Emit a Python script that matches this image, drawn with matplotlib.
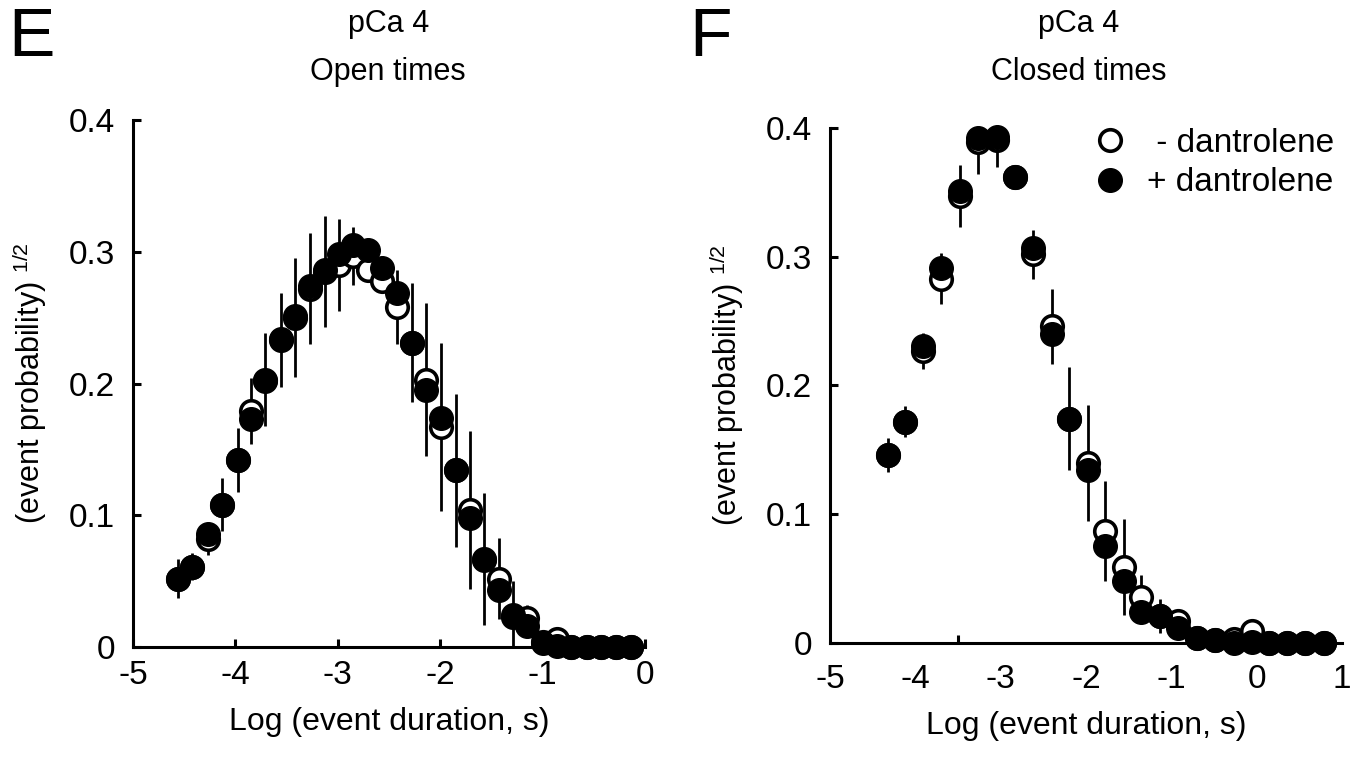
import matplotlib
matplotlib.use('Agg')
import matplotlib.pyplot as plt

plt.rcParams['font.family'] = ['Liberation Sans', 'DejaVu Sans']
plt.rcParams['mathtext.fontset'] = 'custom'
plt.rcParams['mathtext.rm'] = 'Liberation Sans'
plt.rcParams['axes.unicode_minus'] = False

# Panel E: open times (log10 of event duration, s)
open_x = [-4.56, -4.42, -4.27, -4.13, -3.98, -3.85, -3.71, -3.56, -3.42, -3.27,
          -3.13, -2.99, -2.85, -2.71, -2.57, -2.42, -2.28, -2.14, -1.99, -1.85,
          -1.71, -1.57, -1.43, -1.29, -1.15, -1.00, -0.86, -0.72, -0.57, -0.43,
          -0.28, -0.14]
open_minus = [0.052, 0.061, 0.082, 0.108, 0.142, 0.179, 0.203, 0.233, 0.250, 0.272,
              0.285, 0.290, 0.297, 0.286, 0.278, 0.258, 0.231, 0.203, 0.167, 0.134,
              0.104, 0.067, 0.052, 0.023, 0.022, 0.004, 0.006, 0.0, 0.0, 0.0,
              0.0, 0.0]
open_minus_err = [0.015, 0.010, 0.012, 0.020, 0.024, 0.025, 0.035, 0.036, 0.045, 0.042,
                  0.042, 0.035, 0.022, 0.005, 0.005, 0.028, 0.045, 0.058, 0.064, 0.058,
                  0.060, 0.050, 0.031, 0.027, 0.010, 0.005, 0.0, 0.0, 0.0, 0.0,
                  0.0, 0.0]
open_plus = [0.052, 0.061, 0.086, 0.108, 0.142, 0.173, 0.202, 0.234, 0.251, 0.274,
             0.286, 0.298, 0.305, 0.301, 0.288, 0.269, 0.231, 0.195, 0.174, 0.134,
             0.098, 0.066, 0.043, 0.024, 0.016, 0.003, 0.001, 0.0, 0.0, 0.0,
             0.0, 0.0]

# Panel F: closed times
closed_x = [-4.32, -4.12, -3.91, -3.70, -3.48, -3.27, -3.04, -2.83, -2.62, -2.40,
            -2.20, -1.98, -1.78, -1.56, -1.35, -1.13, -0.92, -0.70, -0.49, -0.27,
            -0.05, 0.14, 0.36, 0.57, 0.79]
closed_minus = [0.146, 0.172, 0.227, 0.283, 0.347, 0.389, 0.391, 0.362, 0.302, 0.246,
                0.174, 0.140, 0.087, 0.059, 0.036, 0.021, 0.017, 0.004, 0.002, 0.003,
                0.009, 0.0, 0.0, 0.0, 0.0]
closed_minus_err = [0.013, 0.012, 0.014, 0.020, 0.024, 0.025, 0.021, 0.0, 0.019, 0.029,
                    0.040, 0.045, 0.039, 0.037, 0.017, 0.013, 0.005, 0.0, 0.0, 0.0,
                    0.0, 0.0, 0.0, 0.0, 0.0]
closed_plus = [0.146, 0.172, 0.231, 0.291, 0.351, 0.392, 0.393, 0.362, 0.307, 0.240,
               0.174, 0.134, 0.075, 0.048, 0.024, 0.021, 0.012, 0.004, 0.002, 0.0,
               0.001, 0.0, 0.0, 0.0, 0.0]

y_ticks = [0, 0.1, 0.2, 0.3, 0.4]
y_ticklabels = ['0', '0.1', '0.2', '0.3', '0.4']
ylabel = r'(event probability) $^{\mathregular{1/2}}$'
xlabel = 'Log (event duration, s)'


def draw_panel(ax, x, y_minus, err_minus, y_plus):
    ax.errorbar(x, y_minus, yerr=err_minus, fmt='none', ecolor='black',
                elinewidth=2, capsize=0, zorder=2)
    ax.plot(x, y_minus, 'o', ms=15.5, mfc='white', mec='black', mew=2.6,
            zorder=3, clip_on=False, label=' - dantrolene')
    ax.plot(x, y_plus, 'o', ms=17, mfc='black', mec='black', mew=1,
            zorder=4, clip_on=False, label='+ dantrolene')
    ax.set_ylim(0, 0.4)
    ax.set_yticks(y_ticks)
    ax.set_yticklabels(y_ticklabels)
    for s in ['top', 'right']:
        ax.spines[s].set_visible(False)
    for s in ['left', 'bottom']:
        ax.spines[s].set_linewidth(2.2)
    ax.tick_params(direction='in', length=6, width=2.2, labelsize=24)
    ax.tick_params(axis='y', pad=13)
    ax.tick_params(axis='x', pad=9)
    ax.set_xlabel(xlabel, fontsize=23, labelpad=12)
    ax.set_ylabel(ylabel, fontsize=22, labelpad=14)


fig = plt.figure(figsize=(13.62, 7.62), dpi=100)

ax1 = fig.add_axes([0.0977, 0.1509, 0.3759, 0.6916])
draw_panel(ax1, open_x, open_minus, open_minus_err, open_plus)
ax1.set_xlim(-5, 0)
ax1.set_xticks([-5, -4, -3, -2, -1, 0])

ax2 = fig.add_axes([0.6094, 0.1562, 0.3759, 0.6759])
draw_panel(ax2, closed_x, closed_minus, closed_minus_err, closed_plus)
ax2.set_xlim(-5, 1)
ax2.set_xticks([-5, -4, -3, -2, -1, 0, 1])
ax2.tick_params(axis='x', which='major', length=0, pad=15)
ax2.set_xticks([-3.5, -2, -0.5, 1], minor=True)
ax2.tick_params(axis='x', which='minor', direction='in', length=6, width=2.2)
ax2.legend(loc='upper right', bbox_to_anchor=(1.03, 1.045), frameon=False,
           fontsize=24, handlelength=1.0, handletextpad=0.6, labelspacing=0.25,
           borderpad=0.2)

# titles and panel letters
fig.text(0.285, 0.968, 'pCa 4', ha='center', va='center', fontsize=22)
fig.text(0.285, 0.905, 'Open times', ha='center', va='center', fontsize=22)
fig.text(0.792, 0.968, 'pCa 4', ha='center', va='center', fontsize=22)
fig.text(0.792, 0.905, 'Closed times', ha='center', va='center', fontsize=22)
fig.text(0.006, 0.950, 'E', ha='left', va='center', fontsize=50)
fig.text(0.506, 0.950, 'F', ha='left', va='center', fontsize=50)

fig.savefig('out.png', dpi=100)
